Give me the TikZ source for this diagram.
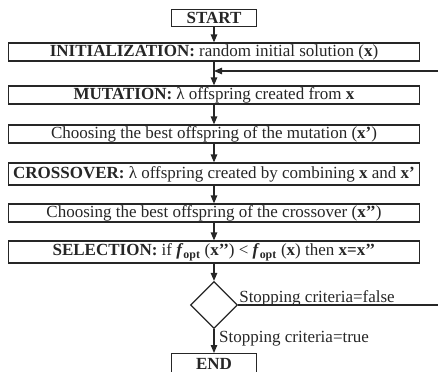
\documentclass[tikz,border=0pt]{standalone}
\usepackage{fontspec}
\setmainfont{Liberation Serif}
\usetikzlibrary{arrows.meta,positioning,shapes.geometric}
\definecolor{ink}{HTML}{262626}

\begin{document}
\begin{tikzpicture}[x=1pt,y=-1pt,font=\fontsize{17}{19}\selectfont,
   proc/.style={draw=ink,line width=1.2pt,minimum width=411pt,minimum height=18pt,inner sep=0.5pt,text=ink},
   term/.style={proc,minimum width=85pt,minimum height=17pt,font=\fontsize{17}{19}\selectfont\bfseries},
   dec/.style={draw=ink,line width=1.2pt,diamond,minimum width=47pt,minimum height=47pt,inner sep=0pt},
   flow/.style={-{Triangle[length=8pt,width=6.5pt]},ink,line width=1.2pt}]
  \useasboundingbox (0,0) rectangle (439,372);
  \node[term] (start) at (214,18) {START};
  \node[proc] (init) at (214,52) {\textbf{INITIALIZATION:} random initial solution (\textbf{x})};
  \node[proc] (mut) at (214,95) {\textbf{MUTATION:} λ offspring created from \textbf{x}};
  \node[proc] (bestm) at (214,134) {Choosing the best offspring of the mutation (\textbf{x’})};
  \node[proc,minimum height=22pt] (cross) at (214,174) {\textbf{CROSSOVER:} λ offspring created by combining \textbf{x} and \textbf{x’}};
  \node[proc] (bestc) at (214,213) {Choosing the best offspring of the crossover (\textbf{x’’})};
  \node[proc,minimum height=22pt] (sel) at (214,252) {\textbf{SELECTION:} if \textbf{\textit{f}}\textsubscript{\textbf{opt}} (\textbf{x’’}) < \textbf{\textit{f}}\textsubscript{\textbf{opt}} (\textbf{x}) then \textbf{x=x’’}};
  \node[dec] (stopq) at (214,305) {};
  \node[term,anchor=north,minimum height=21pt,text depth=0pt] (stop) at (214,353) {END};
  \draw[flow] (start) -- (init);
  \draw[flow] (init) -- (mut);
  \draw[flow] (mut) -- (bestm);
  \draw[flow] (bestm) -- (cross);
  \draw[flow] (cross) -- (bestc);
  \draw[flow] (bestc) -- (sel);
  \draw[flow] (sel) -- (stopq);
  \draw[flow] (stopq) -- (stop);
  % loop back
  \coordinate (fbR) at (438,71);
  \coordinate (fbJ) at (214,71);
  \draw[flow] (fbR) -- (fbJ);
  \coordinate (fR) at (438,305);
  \draw[ink,line width=1.2pt] (stopq.east) -- (fR);
  \node[anchor=base west,inner sep=1pt,text=ink] (lfalse) at ([yshift=3pt]stopq.east) {Stopping criteria=false};
  \node[anchor=west,inner sep=1pt,text=ink] (ltrue) at ([xshift=4pt,yshift=-10pt]stopq.south) {Stopping criteria=true};
\end{tikzpicture}
\end{document}
